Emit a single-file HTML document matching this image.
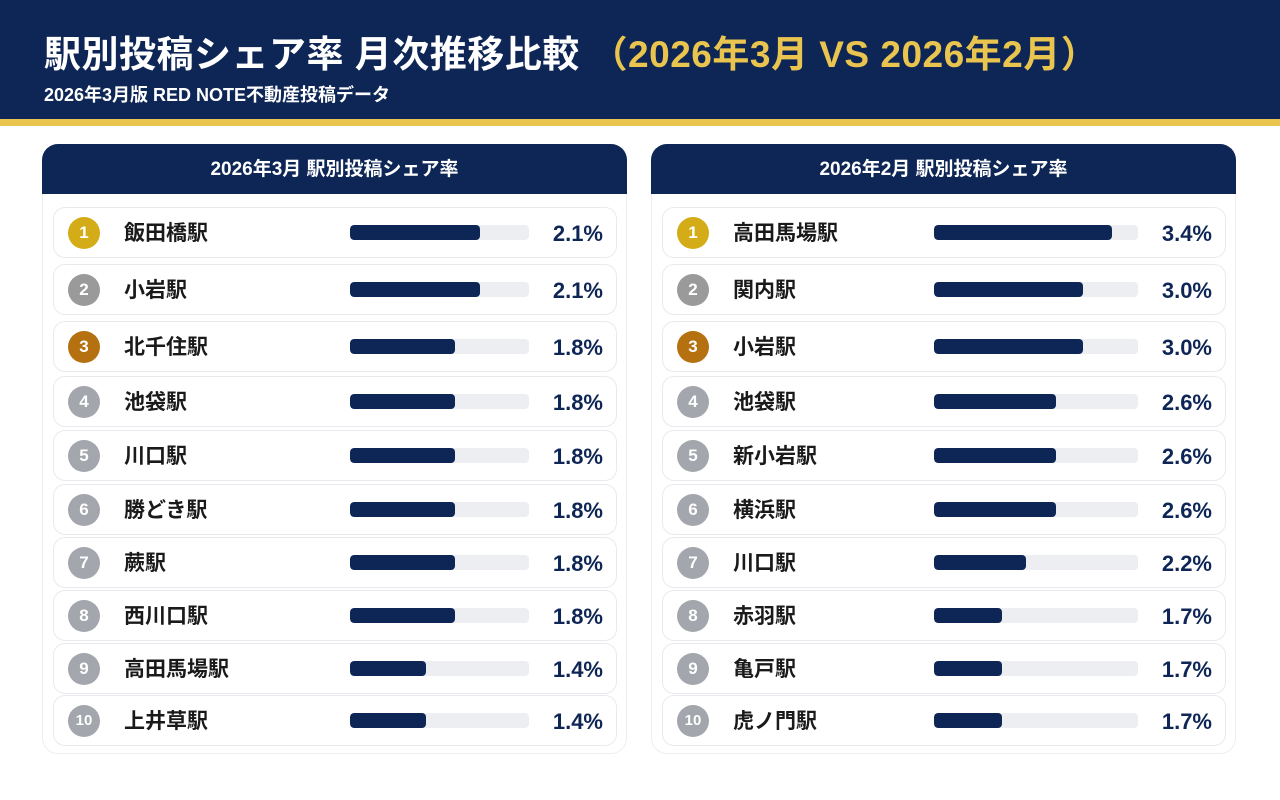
<!DOCTYPE html>
<html><head><meta charset="utf-8"><style>
*{margin:0;padding:0;box-sizing:border-box}
body{width:1280px;height:800px;background:#fff;font-family:"Liberation Sans","Noto Sans CJK JP",sans-serif;position:relative;overflow:hidden}
.hdr{position:absolute;left:0;top:0;width:1280px;height:119px;background:#0e2656}
.gold{position:absolute;left:0;top:119px;width:1280px;height:7px;background:#e9c44e}
.t1{position:absolute;left:44px;top:24px;font-size:37px;font-weight:bold;color:#fff;white-space:nowrap;letter-spacing:0.5px}
.t1 span{color:#e9c44e}
.t2{position:absolute;left:44px;top:81px;font-size:18px;font-weight:bold;color:#fff;white-space:nowrap}
.panel{position:absolute;top:144px;width:585px;height:610px;border:1px solid #eceef2;border-radius:16px;background:#fff}
.ph{position:absolute;left:-1px;top:-1px;width:585px;height:50px;background:#0e2656;border-radius:16px 16px 0 0;color:#fff;font-weight:bold;font-size:19px;text-align:center;line-height:52px}
.row{position:absolute;left:10px;width:564px;height:51px;border:1px solid #e8eaee;border-radius:12px;background:#fff}
.c{position:absolute;left:14px;top:9px;width:32px;height:32px;border-radius:50%;color:#fff;font-weight:bold;font-size:17px;text-align:center;line-height:32px}
.n{position:absolute;left:70px;top:1px;line-height:49px;font-size:21px;font-weight:bold;color:#1a1a1a;white-space:nowrap}
.bar{position:absolute;top:17px;height:15px;border-radius:4px;background:#eceef2;overflow:hidden}
.bar i{display:block;height:100%;background:#0e2656;border-radius:4px}
.p{position:absolute;right:13px;top:1px;line-height:49px;font-size:22px;font-weight:bold;color:#0e2656}
</style></head><body>
<div class="hdr"></div><div class="gold"></div>
<div class="t1">駅別投稿シェア率 月次推移比較 <span>（2026年3月 VS 2026年2月）</span></div>
<div class="t2">2026年3月版 RED NOTE不動産投稿データ</div>
<div class="panel" style="left:42px" id="L"><div class="ph">2026年3月 駅別投稿シェア率</div></div>
<div class="panel" style="left:651px" id="R"><div class="ph">2026年2月 駅別投稿シェア率</div></div>
<script>
const tops=[62,119,176,231,285,339,392,445,498,550];
const cols=["#d4ac17","#9a9a9a","#b5700f"];
const L=[["飯田橋駅",2.1,130],["小岩駅",2.1,130],["北千住駅",1.8,105],["池袋駅",1.8,105],["川口駅",1.8,105],["勝どき駅",1.8,105],["蕨駅",1.8,105],["西川口駅",1.8,105],["高田馬場駅",1.4,76],["上井草駅",1.4,76]];
const R=[["高田馬場駅",3.4,178],["関内駅",3.0,149],["小岩駅",3.0,149],["池袋駅",2.6,122],["新小岩駅",2.6,122],["横浜駅",2.6,122],["川口駅",2.2,92],["赤羽駅",1.7,68],["亀戸駅",1.7,68],["虎ノ門駅",1.7,68]];
function build(id,data,bx,bw){let h="";data.forEach((d,i)=>{h+=`<div class="row" style="top:${tops[i]}px"><div class="c" style="background:${cols[i]||'#a4a6ad'};${i==9?'font-size:15px':''}">${i+1}</div><div class="n">${d[0]}</div><div class="bar" style="left:${bx}px;width:${bw}px"><i style="width:${d[2]}px"></i></div><div class="p">${d[1].toFixed(1)}%</div></div>`});document.getElementById(id).insertAdjacentHTML('beforeend',h);}
build("L",L,296,179);build("R",R,271,204);
</script>
</body></html>
